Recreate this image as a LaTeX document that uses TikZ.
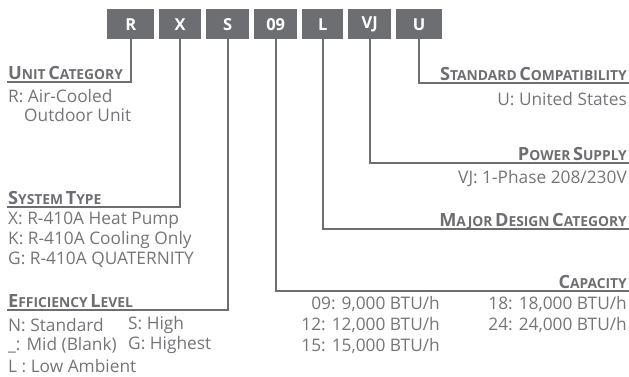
\documentclass[tikz,border=0pt]{standalone}
\usepackage{fontspec}
\setmainfont{Open Sans}
\definecolor{boxgray}{HTML}{6D6E71}
\definecolor{txtgray}{HTML}{747578}
\newcommand\HB[1]{{\fontsize{18.2}{20}\selectfont #1}}
\newcommand\HS[1]{{\fontsize{13.8}{15}\selectfont #1}}
\tikzset{
  codebox/.style={fill=boxgray, draw=none, text=white, font=\bfseries\fontsize{16.5}{18}\selectfont, minimum height=30pt, inner sep=0pt, anchor=north west},
  lead/.style={draw=boxgray, line width=1.6pt},
  head/.style={text=boxgray, font=\bfseries, inner sep=0pt},
  body/.style={text=txtgray, font=\fontsize{17.3}{19}\selectfont, inner sep=0pt},
}
\begin{document}
\begin{tikzpicture}[x=1pt,y=-1pt]
\useasboundingbox (0,0) rectangle (629,376);
% code boxes
\node[codebox, minimum width=47pt] (R)  at (107,9) {R};
\node[codebox, minimum width=42pt] (X)  at (159,9) {X};
\node[codebox, minimum width=43pt] (S)  at (206,9) {S};
\node[codebox, minimum width=43pt] (C)  at (254,9) {09};
\node[codebox, minimum width=41pt] (L)  at (302,9) {L};
\node[codebox, minimum width=43pt] (V)  at (348,9) {VJ};
\node[codebox, minimum width=46pt] (U)  at (396,9) {U};
% corner coordinates
\coordinate (rE) at (7,82);
\coordinate (xE) at (7,207);
\coordinate (sE) at (7,310);
\coordinate (cE) at (629,291);
\coordinate (lE) at (629,229);
\coordinate (vE) at (629,163);
\coordinate (uE) at (629,83);
% leaders
\draw[lead] (R.south) |- (rE);
\draw[lead] (X.south) |- (xE);
\draw[lead] (S.south) |- (sE);
\draw[lead] (C.south) |- (cE);
\draw[lead] (L.south) |- (lE);
\draw[lead] (V.south) |- (vE);
\draw[lead] (U.south) |- (uE);
% Unit category
\node[head, anchor=base west] (hR) at (8,79) {\HB{U}\HS{NIT} \HB{C}\HS{ATEGORY}};
\node[body, anchor=west] (tR1) at (8,96) {R: Air-Cooled};
\node[body, anchor=west] (tR2) at (24,115) {Outdoor Unit};
% System type
\node[head, anchor=base west] (hX) at (8,204) {\HB{S}\HS{YSTEM} \HB{T}\HS{YPE}};
\node[body, anchor=west] (tX1) at (8,220) {X: R-410A Heat Pump};
\node[body, anchor=west] (tX2) at (8,240) {K: R-410A Cooling Only};
\node[body, anchor=west] (tX3) at (8,260) {G: R-410A QUATERNITY};
% Efficiency level
\node[head, anchor=base west] (hS) at (8,307) {\HB{E}\HS{FFICIENCY} \HB{L}\HS{EVEL}};
\node[body, anchor=west] (tS1) at (8,325) {N: Standard};
\node[body, anchor=west] (tS2) at (8,345) {\_: Mid (Blank)};
\node[body, anchor=west] (tS3) at (8,366) {L : Low Ambient};
\node[body, anchor=west] (tS4) at (128,325) {S: High};
\node[body, anchor=west] (tS5) at (128,345) {G: Highest};
% Capacity
\node[head, anchor=base east] (hC) at (627,288) {\HB{C}\HS{APACITY}};
\node[body, anchor=east] (tC1) at (440,304) {09: 9,000 BTU/h};
\node[body, anchor=east] (tC2) at (440,325) {12: 12,000 BTU/h};
\node[body, anchor=east] (tC3) at (440,346) {15: 15,000 BTU/h};
\node[body, anchor=east] (tC4) at (627,304) {18: 18,000 BTU/h};
\node[body, anchor=east] (tC5) at (627,325) {24: 24,000 BTU/h};
% Major design category
\node[head, anchor=base east] (hL) at (627,226) {\HB{M}\HS{AJOR} \HB{D}\HS{ESIGN} \HB{C}\HS{ATEGORY}};
% Power supply
\node[head, anchor=base east] (hV) at (627,160) {\HB{P}\HS{OWER} \HB{S}\HS{UPPLY}};
\node[body, anchor=east] (tV1) at (627,179) {VJ: 1-Phase 208/230V};
% Standard compatibility
\node[head, anchor=base east] (hU) at (627,80) {\HB{S}\HS{TANDARD} \HB{C}\HS{OMPATIBILITY}};
\node[body, anchor=east] (tU1) at (627,99) {U: United States};
\end{tikzpicture}
\end{document}
